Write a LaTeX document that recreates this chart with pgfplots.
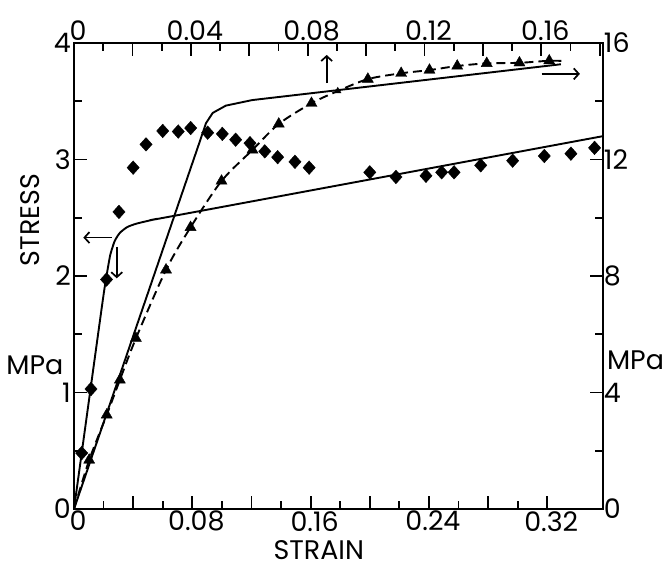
\documentclass[border=0pt]{standalone}
\usepackage{fontspec}
\setmainfont{Poppins}
\usepackage{pgfplots}
\pgfplotsset{compat=1.18}
\usetikzlibrary{arrows.meta}

\newcommand\lbl{\fontsize{27}{30}\selectfont}

\tikzset{arr/.style={line width=1.7bp, -{Straight Barb[length=5bp,width=11bp]}}}

\pgfplotsset{
  base/.style={
    scale only axis, width=528.7bp, height=466bp,
    at={(0,0)}, anchor=south west,
    tick align=inside,
    major tick length=13bp, minor tick length=8bp,
    every tick/.style={black, line width=1.8bp},
    minor tick num=1,
    axis line style={line width=2.2bp},
    tick label style={font=\lbl},
    /pgf/number format/assume math mode=true,
    clip=false,
  },
}

\begin{document}
\begin{tikzpicture}
% bottom / left scales
\begin{axis}[base,
  xmin=0, xmax=0.3575, ymin=0, ymax=4,
  xtick pos=left, ytick pos=left,
  xtick={0,0.04,0.08,0.12,0.16,0.2,0.24,0.28,0.32},
  xticklabels={0,,0.08,,0.16,,0.24,,0.32},
  xticklabel style={inner ysep=2bp, xshift=4bp},
  ytick={0,1,2,3,4},
  yticklabels={0,1,2,3,4},
  yticklabel style={inner xsep=3bp},
]
\addplot[line width=1.9bp, smooth, tension=0.35] coordinates {
  (0,0) (0.019,1.75) (0.022,2.0) (0.0245,2.18) (0.0275,2.3) (0.031,2.37)
  (0.036,2.42) (0.0424,2.45) (0.0559,2.49) (0.0671,2.515) (0.3575,3.2)
};
\addplot[only marks, mark=diamond*, mark size=6.8bp, mark options={xscale=1.2}] coordinates {
  (0.0052,0.48) (0.0115,1.03) (0.022,1.97) (0.0304,2.55) (0.040,2.93)
  (0.0487,3.13) (0.060,3.245) (0.0705,3.24) (0.0789,3.27) (0.0904,3.23)
  (0.1003,3.22) (0.1093,3.17) (0.119,3.14) (0.129,3.07) (0.1377,3.02)
  (0.1494,2.98) (0.159,2.93)
  (0.200,2.89) (0.2177,2.85) (0.238,2.86) (0.2486,2.89) (0.257,2.89)
  (0.275,2.95) (0.2966,2.99) (0.318,3.03) (0.336,3.05) (0.352,3.10)
};
\draw[arr] (axis cs:0.0255,2.33) -- (axis cs:0.0063,2.33);
\draw[arr] (axis cs:0.0289,2.25) -- (axis cs:0.0289,1.98);
\node[font=\lbl, rotate=90] at (rel axis cs:-0.083,0.62) {STRESS};
\node[font=\lbl] at (rel axis cs:-0.074,0.309) {MPa};
\node[font=\lbl, anchor=base, inner sep=0pt] at (rel axis cs:0.463,-0.108) {STRAIN};
\end{axis}

% top / right scales
\begin{axis}[base,
  xmin=0, xmax=0.181, ymin=0, ymax=16,
  axis x line*=top, axis y line*=right,
  xtick={0,0.02,0.04,0.06,0.08,0.1,0.12,0.14,0.16,0.18},
  xticklabels={0,,0.04,,0.08,,0.12,,0.16,},
  xticklabel style={inner ysep=2bp, xshift=4bp},
  ytick={0,4,8,12,16},
  yticklabels={0,4,8,12,16},
  yticklabel style={inner xsep=1bp},
]
\addplot[line width=1.9bp] coordinates {
  (0,0) (0.043,12.6) (0.0452,13.25) (0.0475,13.6) (0.052,13.85)
  (0.061,14.04) (0.1667,15.27)
};
\addplot[line width=1.9bp, dash pattern=on 9bp off 5bp, smooth, tension=0.5] coordinates {
  (0,0) (0.0052,1.68) (0.0112,3.23) (0.0157,4.43) (0.0212,5.86)
  (0.0315,8.21) (0.0399,9.67) (0.0505,11.26) (0.0611,12.33) (0.0701,13.22)
  (0.0813,13.93) (0.0903,14.35) (0.1006,14.76) (0.112,14.96) (0.1217,15.07)
  (0.1312,15.21) (0.1413,15.30) (0.1525,15.32) (0.1627,15.39) (0.168,15.38)
};
\addplot[only marks, mark=triangle*, mark size=6.4bp] coordinates {
  (0.0052,1.68) (0.0112,3.23) (0.0157,4.43) (0.0212,5.86)
  (0.0315,8.21) (0.0399,9.67) (0.0505,11.26) (0.0611,12.33) (0.0701,13.22)
  (0.0813,13.93) (0.1006,14.76) (0.112,14.96) (0.1217,15.07)
  (0.1312,15.21) (0.1413,15.30) (0.1525,15.32) (0.1627,15.39)
};
\addplot[only marks, mark=triangle*, mark size=3.8bp] coordinates {(0.0903,14.35)};
\draw[arr] (axis cs:0.0865,14.62) -- (axis cs:0.0865,15.59);
\draw[arr] (axis cs:0.1601,14.94) -- (axis cs:0.1732,14.94);
\node[font=\lbl] at (rel axis cs:1.062,0.32) {MPa};
\end{axis}
\pgfresetboundingbox
\path[use as bounding box] (-74bp,-59bp) rectangle (593bp,509bp);
\end{tikzpicture}
\end{document}
